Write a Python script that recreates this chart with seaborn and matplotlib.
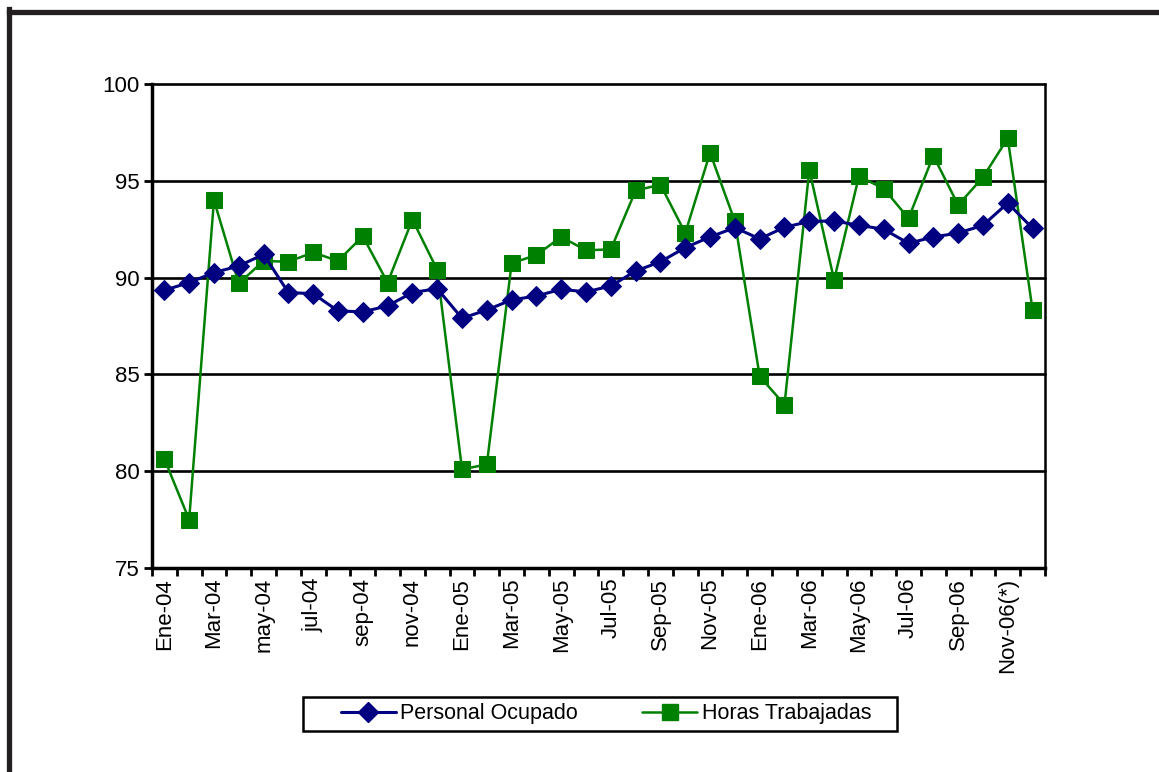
import numpy as np
import pandas as pd
import matplotlib
matplotlib.use("Agg")
import matplotlib.pyplot as plt
import seaborn as sns
from matplotlib.lines import Line2D
from matplotlib.patches import Rectangle

# Data
meses = ["Ene-04", "Feb-04", "Mar-04", "Abr-04", "may-04", "jun-04", "jul-04", "ago-04",
         "sep-04", "oct-04", "nov-04", "dic-04", "Ene-05", "Feb-05", "Mar-05", "Abr-05",
         "May-05", "Jun-05", "Jul-05", "Ago-05", "Sep-05", "Oct-05", "Nov-05", "Dic-05",
         "Ene-06", "Feb-06", "Mar-06", "Abr-06", "May-06", "Jun-06", "Jul-06", "Ago-06",
         "Sep-06", "Oct-06", "Nov-06(*)", "Dic-06(*)"]

personal = [89.35, 89.74, 90.26, 90.6, 91.2, 89.23, 89.17, 88.28, 88.23, 88.54, 89.23, 89.43,
            87.9, 88.33, 88.85, 89.05, 89.4, 89.26, 89.57, 90.34, 90.82, 91.55, 92.1, 92.58,
            92.0, 92.6, 92.9, 92.93, 92.7, 92.5, 91.77, 92.1, 92.3, 92.7, 93.85, 92.55]

horas = [80.64, 77.5, 94.0, 89.7, 90.86, 90.82, 91.3, 90.86, 92.14, 89.74, 93.0, 90.4,
         80.1, 80.35, 90.74, 91.17, 92.1, 91.41, 91.46, 94.5, 94.8, 92.3, 96.45, 92.9,
         84.9, 83.44, 95.56, 89.88, 95.23, 94.6, 93.06, 96.3, 93.75, 95.18, 97.2, 88.33]

yticks = [75, 80, 85, 90, 95, 100]

df = pd.DataFrame({"pos": np.arange(len(meses)), "mes": meses,
                   "Personal Ocupado": personal, "Horas Trabajadas": horas})

sns.set_theme(style="white")
plt.rcParams['font.family'] = ['Liberation Sans', 'DejaVu Sans']
plt.rcParams['text.color'] = 'black'
plt.rcParams['xtick.color'] = 'black'
plt.rcParams['ytick.color'] = 'black'

W, H = 1159, 772
fig = plt.figure(figsize=(W / 100, H / 100), dpi=100)
ax = fig.add_axes([0.1311, 0.2642, 0.9016 - 0.1311, 0.8912 - 0.2642])

azul = "#000080"
verde = "#008000"

sns.lineplot(data=df, x="pos", y="Personal Ocupado", ax=ax, color=azul, lw=2.2,
             marker="D", markersize=10, markeredgecolor=azul, sort=False, zorder=4)
sns.lineplot(data=df, x="pos", y="Horas Trabajadas", ax=ax, color=verde, lw=1.8,
             marker="s", markersize=11.5, markeredgecolor=verde, sort=False, zorder=3)

ax.set_xlim(-0.5, len(meses) - 0.5)
ax.set_ylim(75, 100)
ax.set_yticks(yticks)
ax.set_yticklabels([str(v) for v in yticks], fontsize=16)
for v in yticks[1:]:
    ax.axhline(v, color="black", lw=1.9, zorder=1, clip_on=False)

# boundary ticks (major) and labels every other month (minor)
ax.set_xticks(np.arange(-0.5, len(meses), 1))
ax.set_xticklabels([])
ax.set_xticks(np.arange(0, len(meses), 2), minor=True)
ax.set_xticklabels(meses[::2], minor=True, rotation=90, fontsize=16)
ax.tick_params(axis="x", which="major", direction="out", length=6, width=2, color="black", bottom=True)
ax.tick_params(axis="x", which="minor", length=0, pad=7, bottom=True)
ax.tick_params(axis="y", direction="out", length=6, width=2, color="black", left=True, pad=3)

ax.set_xlabel("")
ax.set_ylabel("")
for s in ["left", "bottom"]:
    ax.spines[s].set_linewidth(2.5)
    ax.spines[s].set_color("black")
ax.spines["right"].set_linewidth(1.8)
ax.spines["right"].set_color("black")
ax.spines["top"].set_visible(False)

handles = [Line2D([], [], color=azul, lw=2.2, marker="D", markersize=10),
           Line2D([], [], color=verde, lw=1.8, marker="s", markersize=11.5)]
leg = fig.legend(handles, ["Personal Ocupado", "Horas Trabajadas"], loc="center",
                 bbox_to_anchor=(606 / W, 1 - 714 / H), ncol=2, fontsize=15.5, frameon=False,
                 handlelength=2.55, columnspacing=3.0, handletextpad=0.2,
                 borderpad=0, borderaxespad=0)
# legend box
fig.add_artist(Rectangle((303 / W, 1 - 731 / H), 594 / W, 34 / H, transform=fig.transFigure,
                         fill=False, edgecolor="black", lw=1.8))

# outer frame (cut off at right and bottom)
fig.add_artist(Line2D([8.5 / W, 8.5 / W], [0, 1 - 9 / H], color="#231f20", lw=3.8,
                      transform=fig.transFigure, solid_capstyle="projecting"))
fig.add_artist(Line2D([8.5 / W, 1], [1 - 11.5 / H, 1 - 11.5 / H], color="#231f20", lw=3.8,
                      transform=fig.transFigure, solid_capstyle="projecting"))

plt.savefig("out.png", dpi=100)
